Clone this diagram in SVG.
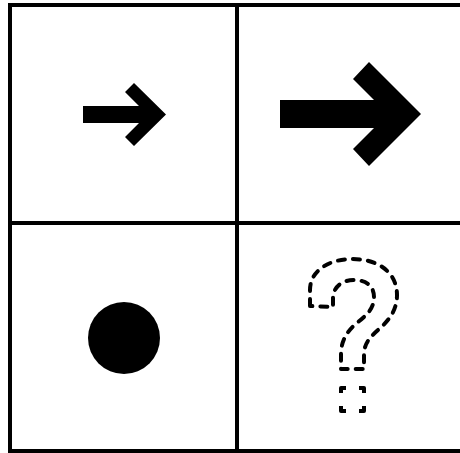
<svg xmlns="http://www.w3.org/2000/svg" width="460" height="453" viewBox="0 0 460 453">
  <style>
    .grid { fill: none; stroke: #000; stroke-width: 4; }
    .solid { fill: #000; stroke: none; }
    .dash { fill: none; stroke: #000; stroke-width: 4; stroke-dasharray: 7 8; stroke-linecap: round; stroke-linejoin: round; }
    .dot { fill: none; stroke: #000; stroke-width: 4; stroke-dasharray: 10 13; stroke-dashoffset: 5; stroke-linejoin: round; }
  </style>
  <rect x="0" y="0" width="460" height="453" fill="#fff"/>
  <g id="grid">
    <rect class="grid" x="10" y="5" width="454" height="446"/>
    <line class="grid" x1="237" y1="5" x2="237" y2="451"/>
    <line class="grid" x1="10" y1="223" x2="464" y2="223"/>
  </g>
  <g id="cell-small-arrow">
    <polygon class="solid" points="83,106 139,106 125,92 134,83 166,114.5 134,146 125,137 139,123 83,123"/>
  </g>
  <g id="cell-big-arrow">
    <polygon class="solid" points="280,100 374,100 353,79 369,62 421,114 369,166 353,149 374,128 280,128"/>
  </g>
  <g id="cell-circle">
    <circle class="solid" cx="124" cy="338" r="36"/>
  </g>
  <g id="cell-question">
    <path class="dash" d="M310,306 L310,290 C310,270 330,259 352,259 C378,259 397,272 397,295 C397,312 387,322 378,330 C370,337 364,344 364,354 L364,369 L341,369 L341,354 C341,340 348,330 358,322 C368,314 374,308 374,297 C374,286 366,280 354,280 C341,280 333,288 333,298 L333,307 Z"/>
    <rect class="dot" x="341" y="388" width="23" height="23"/>
  </g>
</svg>
